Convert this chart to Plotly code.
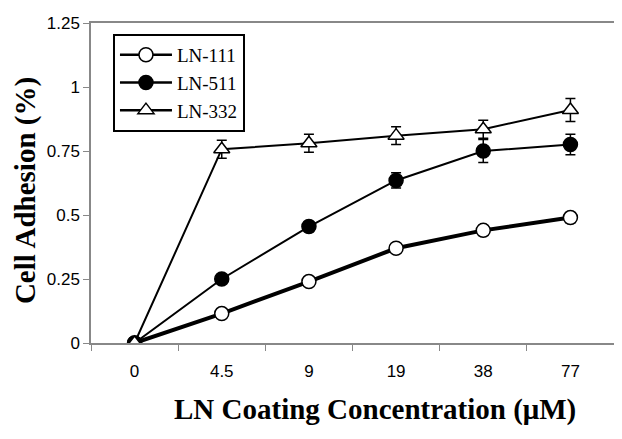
import plotly.graph_objects as go

categories = ["0", "4.5", "9", "19", "38", "77"]
ln111 = [0.0, 0.115, 0.24, 0.37, 0.44, 0.49]
ln111_err = [0.0, 0.01, 0.015, 0.015, 0.02, 0.02]
ln511 = [0.0, 0.25, 0.455, 0.635, 0.75, 0.775]
ln511_err = [0.0, 0.01, 0.02, 0.03, 0.045, 0.04]
ln332 = [0.0, 0.757, 0.78, 0.81, 0.835, 0.91]
ln332_err = [0.0, 0.035, 0.035, 0.035, 0.035, 0.045]
y_ticks = [0, 0.25, 0.5, 0.75, 1, 1.25]
y_ticktext = ["0", "0.25", "0.5", "0.75", "1", "1.25"]

fig = go.Figure()

def add(name, vals, errs, symbol, fill, lw, legend_lw):
    fig.add_trace(go.Scatter(
        x=categories, y=vals, name=name, mode="lines+markers",
        line=dict(color="black", width=lw),
        marker=dict(symbol=symbol, size=14, color=fill,
                    line=dict(color="black", width=1.5)),
        error_y=dict(type="data", array=errs, visible=True,
                     color="black", thickness=1.5, width=5),
        showlegend=False, legendgroup=name,
    ))
    # legend entry (thin line in legend as in the original)
    fig.add_trace(go.Scatter(
        x=[None], y=[None], name=name, mode="lines+markers",
        line=dict(color="black", width=legend_lw),
        marker=dict(symbol=symbol, size=14, color=fill,
                    line=dict(color="black", width=1.5)),
        showlegend=True, legendgroup=name,
    ))

add("LN-111", ln111, ln111_err, "circle", "white", 4, 2.5)
add("LN-511", ln511, ln511_err, "circle", "black", 2, 2.5)
add("LN-332", ln332, ln332_err, "triangle-up", "white", 2, 2.5)

tickfont = dict(family="Liberation Sans Narrow, Liberation Sans, Arial", size=17, color="black")
titlefont = dict(family="Liberation Serif, Times New Roman", size=29, color="black")

fig.update_layout(
    width=614, height=431,
    margin=dict(l=83, r=6, t=11, b=96),
    paper_bgcolor="white", plot_bgcolor="white",
    showlegend=True,
    legend=dict(x=0.042, y=0.966, xanchor="left", yanchor="top",
                bgcolor="white", bordercolor="black", borderwidth=2,
                font=dict(family="Liberation Serif, Times New Roman", size=19, color="black"),
                tracegroupgap=0, itemsizing="trace", itemwidth=52,
                groupclick="togglegroup"),
    xaxis=dict(
        type="category", range=[-0.5, 5.5], tickson="boundaries",
        ticks="outside", ticklen=6, tickcolor="#888", tickwidth=1,
        showline=True, linecolor="#888", linewidth=1.5, mirror=True,
        showgrid=False, zeroline=False, tickfont=tickfont,
        ticklabelstandoff=12,
    ),
    yaxis=dict(
        range=[0, 1.25], tickvals=y_ticks, ticktext=y_ticktext,
        ticks="outside", ticklen=6, tickcolor="#888", tickwidth=1,
        showline=True, linecolor="#888", linewidth=1.5, mirror=True,
        showgrid=False, zeroline=False, tickfont=tickfont,
    ),
    annotations=[
        dict(text="<b>LN Coating Concentration (μM)</b>", xref="paper", yref="paper",
             x=0.543, y=-0.207, xanchor="center", yanchor="middle",
             showarrow=False, font=titlefont),
        dict(text="<b>Cell Adhesion (%)</b>", xref="paper", yref="paper",
             x=-0.126, y=0.475, xanchor="center", yanchor="middle",
             showarrow=False, font=titlefont, textangle=-90),
    ],
)

fig.write_html("out.html")
